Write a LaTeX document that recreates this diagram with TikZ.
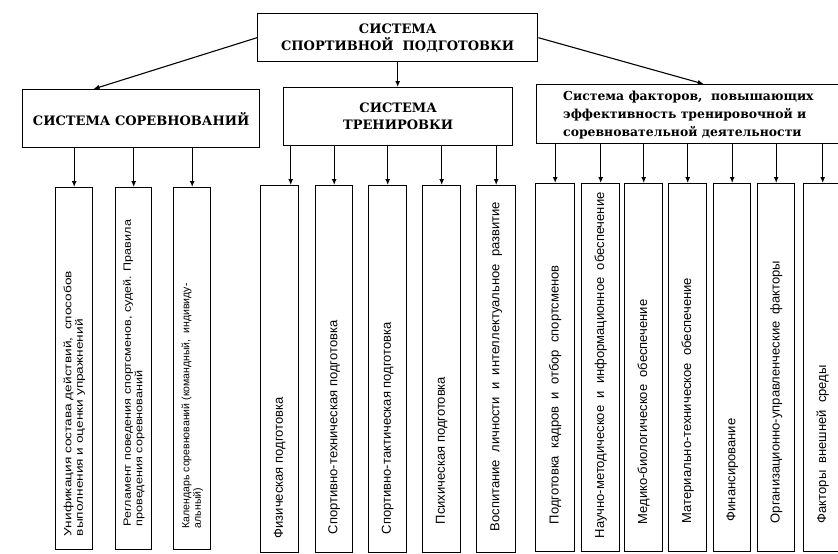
\documentclass[tikz,border=0pt]{standalone}
\usepackage{fontspec}
\setmainfont{Liberation Serif}
\newfontfamily\hfont{DejaVu Serif}
\newfontfamily\vfont{Liberation Sans}
\newfontfamily\vfontw[FakeStretch=1.2]{Liberation Sans}
\newfontfamily\vfontx[FakeStretch=1.3]{Liberation Sans}
\usetikzlibrary{arrows.meta,calc}
\begin{document}
\begin{tikzpicture}[x=1pt,y=-1pt,
  box/.style={draw, line width=1.4pt, inner sep=0pt, anchor=north west},
  arr/.style={-{Latex[length=6pt,width=5pt]}, line width=1.1pt},
  head/.style={font=\hfont\bfseries\fontsize{13}{17}\selectfont, align=center},
  vt/.style={rotate=90, anchor=west, inner sep=0pt, font=\vfont\fontsize{13}{14}\selectfont},
  vtw/.style={rotate=90, anchor=west, inner sep=0pt, align=left, font=\vfontw\fontsize{10.5}{11.5}\selectfont}]
\clip (0,0) rectangle (838,554);
\fill[white] (0,0) rectangle (838,554);
% headers
\node[box, minimum width=280pt, minimum height=48pt, head] (top) at (257,13) {СИСТЕМА\\СПОРТИВНОЙ\ \ ПОДГОТОВКИ};
\node[box, minimum width=237pt, minimum height=58pt, head] (comp) at (22,89) {СИСТЕМА СОРЕВНОВАНИЙ};
\node[box, minimum width=229pt, minimum height=58pt, head] (train) at (283,87) {СИСТЕМА\\ТРЕНИРОВКИ};
\node[box, minimum width=334pt, minimum height=59pt] (fact) at (536,84) {};
\node[anchor=north west, inner sep=0pt, align=left, font=\hfont\bfseries\fontsize{12.4}{18}\selectfont] (facttext) at (563,91)
  {Система факторов,\ \ повышающих\\эффективность тренировочной и\\соревновательной деятельности};
% top connectors
\draw[arr] (top.west) -- ($(comp.north west)!0.30!(comp.north east)$);
\draw[arr] (top.south) -- (top.south |- train.north);
\draw[arr] (top.east) -- ($(fact.north west)!0.50!(fact.north east)$);
% left group
\foreach \n/\x/\w in {L1/55/37, L2/115/36, L3/173/37}
  \node[box, minimum width=\w pt, minimum height=362pt] (\n) at (\x,187) {};
% middle group
\foreach \n/\x/\w in {M1/260/38, M2/315/37, M3/368/38, M4/422/38, M5/476/39}
  \node[box, minimum width=\w pt, minimum height=367pt] (\n) at (\x,185) {};
% right group
\foreach \n/\x/\w in {R1/535/39, R2/581/38, R3/624/38, R4/668/38, R5/713/37, R6/757/37, R7/803/38}
  \node[box, minimum width=\w pt, minimum height=368pt] (\n) at (\x,183) {};
% child arrows
\foreach \n in {L1,L2,L3}
  \draw[arr] (\n.north |- comp.south) -- (\n.north);
\coordinate (m1in) at ($(M1.north west)!0.78!(M1.north east)$);
\draw[arr] (m1in |- train.south) -- (m1in);
\foreach \n in {M2,M3,M4,M5}
  \draw[arr] (\n.north |- train.south) -- (\n.north);
\foreach \n in {R1,R2,R3,R4,R5,R6,R7}
  \draw[arr] (\n.north |- fact.south) -- (\n.north);
% vertical texts
\node[vtw, font=\vfontx\fontsize{10.5}{11.5}\selectfont] (tL1) at ($(L1.south)+(0,-14)$) {Унификация состава действий,\ \ способов\\выполнения и оценки упражнений};
\node[vtw] (tL2) at ($(L2.south)+(0,-24)$) {Регламент поведения спортсменов, судей. Правила\\проведения соревнований};
\node[vtw, font=\vfont\fontsize{10.5}{11.5}\selectfont] (tL3) at ($(L3.south)+(0,-22)$) {Календарь соревнований (командный,\ \ индивиду-\\альный)};
\node[vt] (tM1) at ($(M1.south)+(0,-15)$) {Физическая подготовка};
\node[vt] (tM2) at ($(M2.south)+(0,-19)$) {Спортивно-техническая подготовка};
\node[vt] (tM3) at ($(M3.south)+(0,-19)$) {Спортивно-тактическая подготовка};
\node[vt] (tM4) at ($(M4.south)+(0,-29)$) {Психическая подготовка};
\node[vt] (tM5) at ($(M5.south)+(0,-22)$) {Воспитание\ \ личности\ \ и\ \ интеллектуальное\ \ развитие};
\node[vt] (tR1) at ($(R1.south)+(0,-28)$) {Подготовка\ \ кадров\ \ и\ \ отбор\ \ спортсменов};
\node[vt] (tR2) at ($(R2.south)+(0,-14)$) {Научно-методическое\ \ и\ \ информационное\ \ обеспечение};
\node[vt] (tR3) at ($(R3.south)+(0,-28)$) {Медико-биологическое\ \ обеспечение};
\node[vt] (tR4) at ($(R4.south)+(0,-29)$) {Материально-техническое\ \ обеспечение};
\node[vt] (tR5) at ($(R5.south)+(0,-31)$) {Финансирование};
\node[vt] (tR6) at ($(R6.south)+(0,-29)$) {Организационно-управленческие\ \ факторы};
\node[vt] (tR7) at ($(R7.south)+(0,-29)$) {Факторы\ \ внешней\ \ среды};
\end{tikzpicture}
\end{document}
